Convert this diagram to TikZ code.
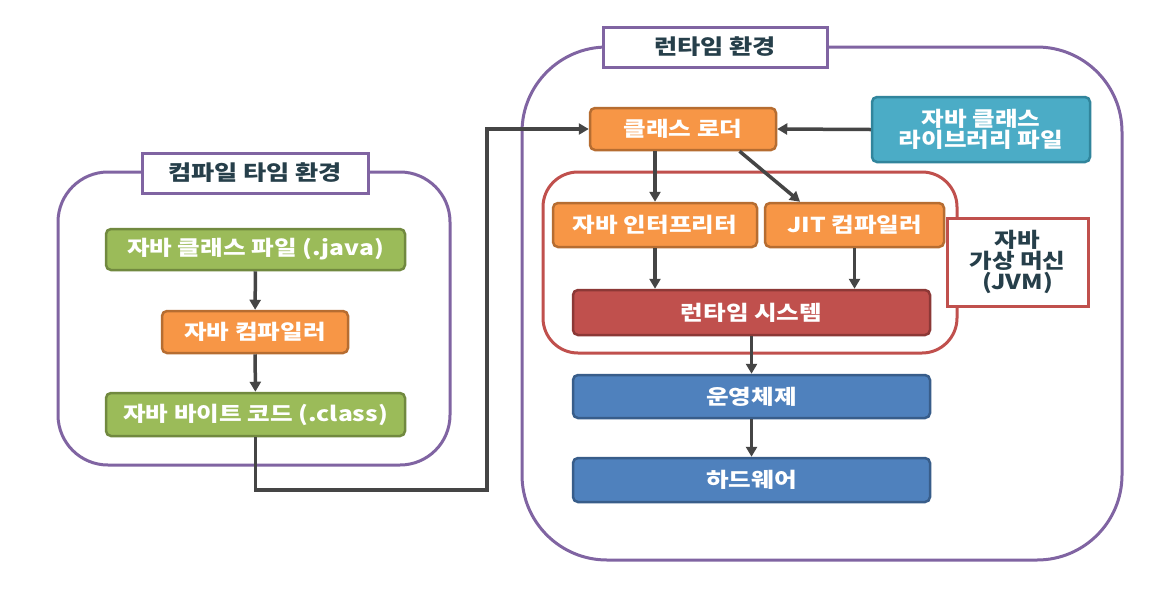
\documentclass[tikz,border=0pt]{standalone}
\usepackage{fontspec}
\newfontfamily\kr{Noto Sans CJK KR}[FakeStretch=1.2]
\usetikzlibrary{arrows.meta,calc}
\definecolor{gfill}{HTML}{9BBB59}\definecolor{gline}{HTML}{71893F}
\definecolor{ofill}{HTML}{F79646}\definecolor{oline}{HTML}{B66D31}
\definecolor{rfill}{HTML}{C0504D}\definecolor{rline}{HTML}{8C3836}
\definecolor{bfill}{HTML}{4F81BD}\definecolor{bline}{HTML}{385D8A}
\definecolor{tfill}{HTML}{4BACC6}\definecolor{tline}{HTML}{31859C}
\definecolor{purp}{HTML}{8064A2}
\definecolor{ttext}{HTML}{263F4A}
\definecolor{arrc}{HTML}{454545}
\tikzset{
  box/.style={draw, line width=2.5pt, rounded corners=5pt, text=white, font=\kr\bfseries\fontsize{20.5}{24}\selectfont, align=center, inner sep=0pt},
  gbox/.style={box, fill=gfill, draw=gline},
  obox/.style={box, fill=ofill, draw=oline},
  rbox/.style={box, fill=rfill, draw=rline},
  bbox/.style={box, fill=bfill, draw=bline},
  tbox/.style={box, fill=tfill, draw=tline},
  titlebox/.style={draw=purp, fill=white, line width=3pt, text=ttext, font=\kr\bfseries\fontsize{21}{25}\selectfont, inner sep=0pt},
  jvmbox/.style={draw=rfill, fill=white, line width=3pt, text=ttext, font=\kr\bfseries\fontsize{20.5}{24}\selectfont, align=center, inner sep=0pt},
  arr/.style={draw=arrc, line width=3.5pt, -{Triangle[length=10pt,width=11pt]}},
  cont/.style={draw=purp, line width=3pt},
}
\begin{document}
\begin{tikzpicture}[x=1pt,y=-1pt]
\useasboundingbox[fill=white] (0,0) rectangle (1151,606);
% containers
\draw[cont, rounded corners=50pt] (58,172) rectangle (450,465);
\draw[cont, rounded corners=85pt] (522,47) rectangle (1122,560);
\draw[draw=rfill, line width=3pt, rounded corners=35pt] (543,172) rectangle (957,353);
% titles
\node[titlebox, minimum width=226pt, minimum height=40pt] (ctitle) at (255,173) {컴파일 타임 환경};
\node[titlebox, minimum width=224pt, minimum height=40pt] (rtitle) at (715,47) {런타임 환경};
% compile-time boxes
\node[gbox, minimum width=299pt, minimum height=41pt] (javaf) at (255.5,249.5) {자바 클래스 파일 (.java)};
\node[obox, minimum width=186pt, minimum height=42pt] (jcomp) at (255,332) {자바 컴파일러};
\node[gbox, minimum width=299pt, minimum height=43pt] (bytec) at (255.5,414.5) {자바 바이트 코드 (.class)};
% runtime boxes
\node[obox, minimum width=186pt, minimum height=42pt] (cl) at (683,129) {클래스 로더};
\node[tbox, minimum width=218pt, minimum height=65pt] (lib) at (981,129.5) {자바 클래스\\[-3pt]라이브러리 파일};
\node[obox, minimum width=204pt, minimum height=44pt] (interp) at (655,225) {자바 인터프리터};
\node[obox, minimum width=179pt, minimum height=44pt] (jit) at (854.5,225) {JIT 컴파일러};
\node[rbox, minimum width=357pt, minimum height=45pt] (rts) at (751.5,312.5) {런타임 시스템};
\node[bbox, minimum width=357pt, minimum height=43pt] (os) at (751.5,396.5) {운영체제};
\node[bbox, minimum width=357pt, minimum height=44pt] (hw) at (751.5,480) {하드웨어};
\node[jvmbox, minimum width=141pt, minimum height=88pt] (jvm) at (1017.5,262) {자바\\[-3pt]가상 머신\\[-3pt](JVM)};
% connectors
\draw[arr] (javaf) -- (jcomp);
\draw[arr] (jcomp) -- (bytec);
\coordinate (t1) at (487,490);
\draw[arr] (bytec.south) |- (t1) |- (cl.west);
\draw[arr] (lib.west) -- (cl.east);
\draw[arr] (cl.south -| interp.north) -- (interp.north);
\draw[arr] ($(cl.south west)!0.8!(cl.south east)$) -- ($(jit.north west)!0.2!(jit.north east)$);
\draw[arr] (interp.south) -- (interp.south |- rts.north);
\draw[arr] (jit.south) -- (jit.south |- rts.north);
\draw[arr] (rts) -- (os);
\draw[arr] (os) -- (hw);
\end{tikzpicture}
\end{document}
